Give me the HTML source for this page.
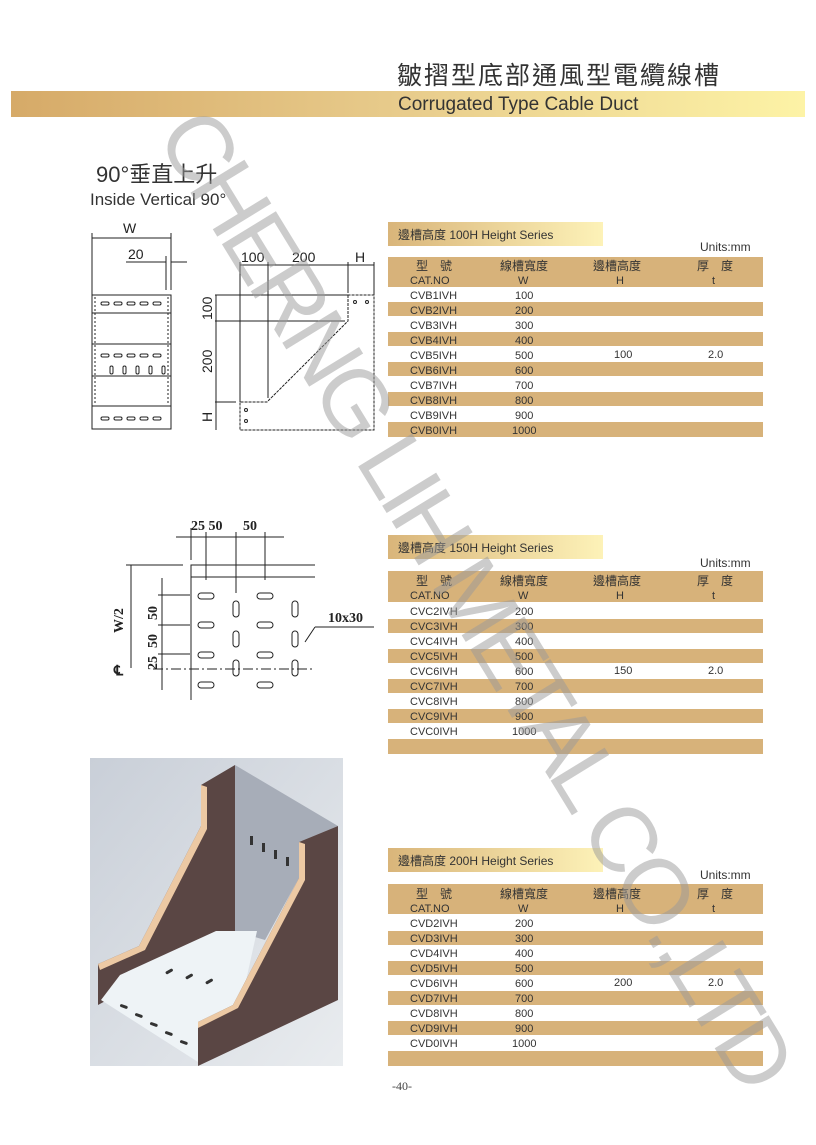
<!DOCTYPE html>
<html><head><meta charset="utf-8"><style>
html,body{margin:0;padding:0;background:#fff}
svg{display:block}
text{font-family:"Liberation Sans","Noto Sans CJK TC",sans-serif}
.serif{font-family:"Liberation Serif",serif}
</style></head><body>
<svg width="816" height="1145" viewBox="0 0 816 1145" xmlns="http://www.w3.org/2000/svg">
<defs>
<linearGradient id="band" x1="0" x2="1"><stop offset="0" stop-color="#d6aa68"/><stop offset="0.5" stop-color="#e8cc8c"/><stop offset="1" stop-color="#fdf3a6"/></linearGradient>
<linearGradient id="hb" x1="0" x2="1"><stop offset="0" stop-color="#d9b57a"/><stop offset="1" stop-color="#fdf2b8"/></linearGradient>
<linearGradient id="photo" x1="0" y1="0" x2="1" y2="1"><stop offset="0" stop-color="#c9cfd8"/><stop offset="1" stop-color="#e9ecef"/></linearGradient>
</defs>
<text x="397" y="84" font-size="25" fill="#333" letter-spacing="2">皺摺型底部通風型電纜線槽</text>
<rect x="11" y="91" width="794" height="26" fill="url(#band)"/>
<text x="398" y="110" font-size="19" fill="#333">Corrugated Type Cable Duct</text>
<text x="96" y="182" font-size="22" fill="#333">90°垂直上升</text>
<text x="90" y="205" font-size="17" fill="#333">Inside Vertical  90°</text>

<g stroke="#222" stroke-width="1" fill="none">
<line x1="92" y1="233" x2="92" y2="295"/><line x1="171" y1="233" x2="171" y2="290"/>
<line x1="92" y1="238" x2="171" y2="238"/>
<line x1="126" y1="262" x2="166" y2="262"/><line x1="166" y1="256" x2="166" y2="290"/><line x1="171" y1="262" x2="187" y2="262"/>
<rect x="92" y="295" width="79" height="134"/>
<line x1="92" y1="313" x2="171" y2="313"/><line x1="92" y1="344" x2="171" y2="344"/><line x1="92" y1="376" x2="171" y2="376"/><line x1="92" y1="406" x2="171" y2="406"/>
<line x1="95" y1="297" x2="95" y2="404" stroke-dasharray="2 2"/><line x1="168" y1="297" x2="168" y2="404" stroke-dasharray="2 2"/>
</g>
<g fill="none" stroke="#222" stroke-width="1">
<rect x="101" y="302" width="8" height="3" rx="1.5"/><rect x="114" y="302" width="8" height="3" rx="1.5"/><rect x="127" y="302" width="8" height="3" rx="1.5"/><rect x="140" y="302" width="8" height="3" rx="1.5"/><rect x="153" y="302" width="8" height="3" rx="1.5"/>
<rect x="101" y="354" width="8" height="3" rx="1.5"/><rect x="114" y="354" width="8" height="3" rx="1.5"/><rect x="127" y="354" width="8" height="3" rx="1.5"/><rect x="140" y="354" width="8" height="3" rx="1.5"/><rect x="153" y="354" width="8" height="3" rx="1.5"/>
<rect x="110" y="366" width="3" height="8" rx="1.5"/><rect x="123" y="366" width="3" height="8" rx="1.5"/><rect x="136" y="366" width="3" height="8" rx="1.5"/><rect x="149" y="366" width="3" height="8" rx="1.5"/><rect x="162" y="366" width="3" height="8" rx="1.5"/>
<rect x="101" y="417" width="8" height="3" rx="1.5"/><rect x="114" y="417" width="8" height="3" rx="1.5"/><rect x="127" y="417" width="8" height="3" rx="1.5"/><rect x="140" y="417" width="8" height="3" rx="1.5"/><rect x="153" y="417" width="8" height="3" rx="1.5"/>
</g>
<text x="123" y="233" font-size="14" fill="#222">W</text>
<text x="128" y="259" font-size="14" fill="#222">20</text>

<g stroke="#222" stroke-width="1" fill="none">
<line x1="240" y1="262" x2="240" y2="402"/><line x1="268" y1="262" x2="268" y2="398"/><line x1="348" y1="262" x2="348" y2="293"/><line x1="374" y1="262" x2="374" y2="295"/>
<line x1="240" y1="265" x2="348" y2="265"/><line x1="348" y1="265" x2="374" y2="265"/>
<line x1="215" y1="295" x2="348" y2="295"/><line x1="215" y1="321" x2="345" y2="321"/>
<line x1="215" y1="402" x2="236" y2="402"/>
<line x1="216" y1="295" x2="216" y2="430"/>
<polyline points="348,295 348,321 267,402 240,402 240,430 374,430 374,295 348,295" stroke-dasharray="3 1"/>
</g>
<circle cx="355" cy="302" r="1.5" fill="none" stroke="#222"/><circle cx="367" cy="302" r="1.5" fill="none" stroke="#222"/>
<circle cx="246" cy="410" r="1.5" fill="none" stroke="#222"/><circle cx="246" cy="421" r="1.5" fill="none" stroke="#222"/>
<text x="241" y="262" font-size="14" fill="#222">100</text>
<text x="292" y="262" font-size="14" fill="#222">200</text>
<text x="355" y="262" font-size="14" fill="#222">H</text>
<text font-size="14" fill="#222" transform="translate(212,320) rotate(-90)">100</text>
<text font-size="14" fill="#222" transform="translate(212,373) rotate(-90)">200</text>
<text font-size="14" fill="#222" transform="translate(212,422) rotate(-90)">H</text>

<g stroke="#222" stroke-width="1" fill="none">
<line x1="176" y1="537" x2="284" y2="537"/>
<line x1="191" y1="528" x2="191" y2="560"/><line x1="206" y1="532" x2="206" y2="580"/><line x1="236" y1="532" x2="236" y2="593"/><line x1="265" y1="532" x2="265" y2="580"/>
<line x1="126" y1="565" x2="183" y2="565"/>
<polyline points="315,565 191,565 191,700"/><line x1="191" y1="577" x2="315" y2="577"/>
<line x1="131" y1="565" x2="131" y2="668"/>
<line x1="162" y1="578" x2="162" y2="690"/>
<line x1="158" y1="595" x2="190" y2="595"/><line x1="158" y1="625" x2="190" y2="625"/><line x1="158" y1="654" x2="190" y2="654"/>
<line x1="153" y1="669" x2="315" y2="669" stroke-dasharray="10 3 2 3"/>
<line x1="305" y1="642" x2="315" y2="627"/><line x1="315" y1="627" x2="374" y2="627"/>
</g>
<g fill="none" stroke="#222" stroke-width="1">
<rect x="198" y="593" width="16" height="6" rx="3"/><rect x="257" y="593" width="16" height="6" rx="3"/>
<rect x="198" y="622" width="16" height="6" rx="3"/><rect x="257" y="622" width="16" height="6" rx="3"/>
<rect x="198" y="652" width="16" height="6" rx="3"/><rect x="257" y="652" width="16" height="6" rx="3"/>
<rect x="198" y="682" width="16" height="6" rx="3"/><rect x="257" y="682" width="16" height="6" rx="3"/>
<rect x="233" y="601" width="6" height="16" rx="3"/><rect x="292" y="601" width="6" height="16" rx="3"/>
<rect x="233" y="631" width="6" height="16" rx="3"/><rect x="292" y="631" width="6" height="16" rx="3"/>
<rect x="233" y="660" width="6" height="16" rx="3"/><rect x="292" y="660" width="6" height="16" rx="3"/>
</g>
<g font-weight="bold" font-size="14" fill="#222">
<text class="serif" x="191" y="530">25 50</text><text class="serif" x="243" y="530">50</text>
<text class="serif" x="328" y="622">10x30</text>
<text class="serif" transform="translate(123,633) rotate(-90)">W/2</text>
<text class="serif" transform="translate(157,620) rotate(-90)">50</text>
<text class="serif" transform="translate(157,648) rotate(-90)">50</text>
<text class="serif" transform="translate(157,670) rotate(-90)">25</text>
<text class="serif" x="114" y="675">℄</text>
</g>

<rect x="90" y="758" width="253" height="308" fill="url(#photo)"/>
<polygon points="235,765 338,826 299,842 299,878 265,940 235,931" fill="#a7adb8"/>
<polygon points="98,964 139,946 201,826 201,785 235,765 235,931 98,1005" fill="#5a4644"/>
<polygon points="101,1000 198,1062 245,985 257,931 216,931 120,975" fill="#eef3f6"/>
<g fill="#333">
<rect x="120" y="1005" width="8" height="3" rx="1.5" transform="rotate(20 124 1006)"/><rect x="135" y="1014" width="8" height="3" rx="1.5" transform="rotate(20 139 1015)"/><rect x="150" y="1023" width="8" height="3" rx="1.5" transform="rotate(20 154 1024)"/><rect x="165" y="1032" width="8" height="3" rx="1.5" transform="rotate(20 169 1033)"/><rect x="180" y="1041" width="8" height="3" rx="1.5" transform="rotate(20 184 1042)"/>
<rect x="165" y="970" width="8" height="3" rx="1.5" transform="rotate(-30 169 971)"/><rect x="185" y="975" width="8" height="3" rx="1.5" transform="rotate(-30 189 976)"/><rect x="205" y="980" width="8" height="3" rx="1.5" transform="rotate(-30 209 981)"/>
<rect x="250" y="836" width="3" height="9"/><rect x="262" y="843" width="3" height="9"/><rect x="274" y="850" width="3" height="9"/><rect x="286" y="857" width="3" height="9"/>
</g>
<polygon points="98,964 139,946 201,826 201,785 207,787 207,829 145,950 100,970" fill="#ecc9a4"/>
<polygon points="198,1022 233,1005 299,878 299,842 338,826 338,1000 198,1066" fill="#5a4644"/>
<polygon points="198,1022 233,1005 299,878 299,842 305,844 305,880 238,1008 198,1028" fill="#ecc9a4"/>

<g font-size="11" fill="#333">
<rect x="388" y="222" width="215" height="24" fill="url(#hb)"/>
<text x="398" y="239" font-size="12">邊槽高度 100H  Height Series</text>
<text x="700" y="251" font-size="12">Units:mm</text>
<rect x="388" y="257" width="375" height="30" fill="#d7b27a"/>
<text x="416" y="270" font-size="12">型　號</text><text x="410" y="284">CAT.NO</text>
<text x="500" y="270" font-size="12">線槽寬度</text><text x="518" y="284">W</text>
<text x="593" y="270" font-size="12">邊槽高度</text><text x="616" y="284">H</text>
<text x="697" y="270" font-size="12">厚　度</text><text x="712" y="284">t</text>
<rect x="388" y="302" width="375" height="14" fill="#d7b27a"/><rect x="388" y="332" width="375" height="14" fill="#d7b27a"/><rect x="388" y="362" width="375" height="14" fill="#d7b27a"/><rect x="388" y="392" width="375" height="14" fill="#d7b27a"/><rect x="388" y="422" width="375" height="15" fill="#d7b27a"/>
<text x="410" y="299">CVB1IVH</text><text x="515" y="299">100</text>
<text x="410" y="314">CVB2IVH</text><text x="515" y="314">200</text>
<text x="410" y="329">CVB3IVH</text><text x="515" y="329">300</text>
<text x="410" y="344">CVB4IVH</text><text x="515" y="344">400</text>
<text x="410" y="359">CVB5IVH</text><text x="515" y="359">500</text><text x="614" y="358">100</text><text x="708" y="358">2.0</text>
<text x="410" y="374">CVB6IVH</text><text x="515" y="374">600</text>
<text x="410" y="389">CVB7IVH</text><text x="515" y="389">700</text>
<text x="410" y="404">CVB8IVH</text><text x="515" y="404">800</text>
<text x="410" y="419">CVB9IVH</text><text x="515" y="419">900</text>
<text x="410" y="434">CVB0IVH</text><text x="512" y="434">1000</text>
<rect x="388" y="535" width="215" height="24" fill="url(#hb)"/>
<text x="398" y="552" font-size="12">邊槽高度 150H   Height Series</text>
<text x="700" y="567" font-size="12">Units:mm</text>
<rect x="388" y="571" width="375" height="31" fill="#d7b27a"/>
<text x="416" y="585" font-size="12">型　號</text><text x="410" y="599">CAT.NO</text>
<text x="500" y="585" font-size="12">線槽寬度</text><text x="518" y="599">W</text>
<text x="593" y="585" font-size="12">邊槽高度</text><text x="616" y="599">H</text>
<text x="697" y="585" font-size="12">厚　度</text><text x="712" y="599">t</text>
<rect x="388" y="619" width="375" height="14" fill="#d7b27a"/><rect x="388" y="649" width="375" height="14" fill="#d7b27a"/><rect x="388" y="679" width="375" height="14" fill="#d7b27a"/><rect x="388" y="709" width="375" height="14" fill="#d7b27a"/><rect x="388" y="739" width="375" height="15" fill="#d7b27a"/>
<text x="410" y="615">CVC2IVH</text><text x="515" y="615">200</text>
<text x="410" y="630">CVC3IVH</text><text x="515" y="630">300</text>
<text x="410" y="645">CVC4IVH</text><text x="515" y="645">400</text>
<text x="410" y="660">CVC5IVH</text><text x="515" y="660">500</text>
<text x="410" y="675">CVC6IVH</text><text x="515" y="675">600</text><text x="614" y="674">150</text><text x="708" y="674">2.0</text>
<text x="410" y="690">CVC7IVH</text><text x="515" y="690">700</text>
<text x="410" y="705">CVC8IVH</text><text x="515" y="705">800</text>
<text x="410" y="720">CVC9IVH</text><text x="515" y="720">900</text>
<text x="410" y="735">CVC0IVH</text><text x="512" y="735">1000</text>
<rect x="388" y="848" width="215" height="24" fill="url(#hb)"/>
<text x="398" y="865" font-size="12">邊槽高度 200H   Height Series</text>
<text x="700" y="879" font-size="12">Units:mm</text>
<rect x="388" y="884" width="375" height="30" fill="#d7b27a"/>
<text x="416" y="898" font-size="12">型　號</text><text x="410" y="912">CAT.NO</text>
<text x="500" y="898" font-size="12">線槽寬度</text><text x="518" y="912">W</text>
<text x="593" y="898" font-size="12">邊槽高度</text><text x="616" y="912">H</text>
<text x="697" y="898" font-size="12">厚　度</text><text x="712" y="912">t</text>
<rect x="388" y="931" width="375" height="14" fill="#d7b27a"/><rect x="388" y="961" width="375" height="14" fill="#d7b27a"/><rect x="388" y="991" width="375" height="14" fill="#d7b27a"/><rect x="388" y="1021" width="375" height="14" fill="#d7b27a"/><rect x="388" y="1051" width="375" height="15" fill="#d7b27a"/>
<text x="410" y="927">CVD2IVH</text><text x="515" y="927">200</text>
<text x="410" y="942">CVD3IVH</text><text x="515" y="942">300</text>
<text x="410" y="957">CVD4IVH</text><text x="515" y="957">400</text>
<text x="410" y="972">CVD5IVH</text><text x="515" y="972">500</text>
<text x="410" y="987">CVD6IVH</text><text x="515" y="987">600</text><text x="614" y="986">200</text><text x="708" y="986">2.0</text>
<text x="410" y="1002">CVD7IVH</text><text x="515" y="1002">700</text>
<text x="410" y="1017">CVD8IVH</text><text x="515" y="1017">800</text>
<text x="410" y="1032">CVD9IVH</text><text x="515" y="1032">900</text>
<text x="410" y="1047">CVD0IVH</text><text x="512" y="1047">1000</text>
</g>
<text class="serif" x="392" y="1090" font-size="12" fill="#444">-40-</text>

<text transform="translate(155,135) rotate(58.5)" font-size="92" fill="#9a9a9a" opacity="0.5" textLength="1130" lengthAdjust="spacing">CHERNG LIH METAL CO.,LTD</text>
</svg>
</body></html>
